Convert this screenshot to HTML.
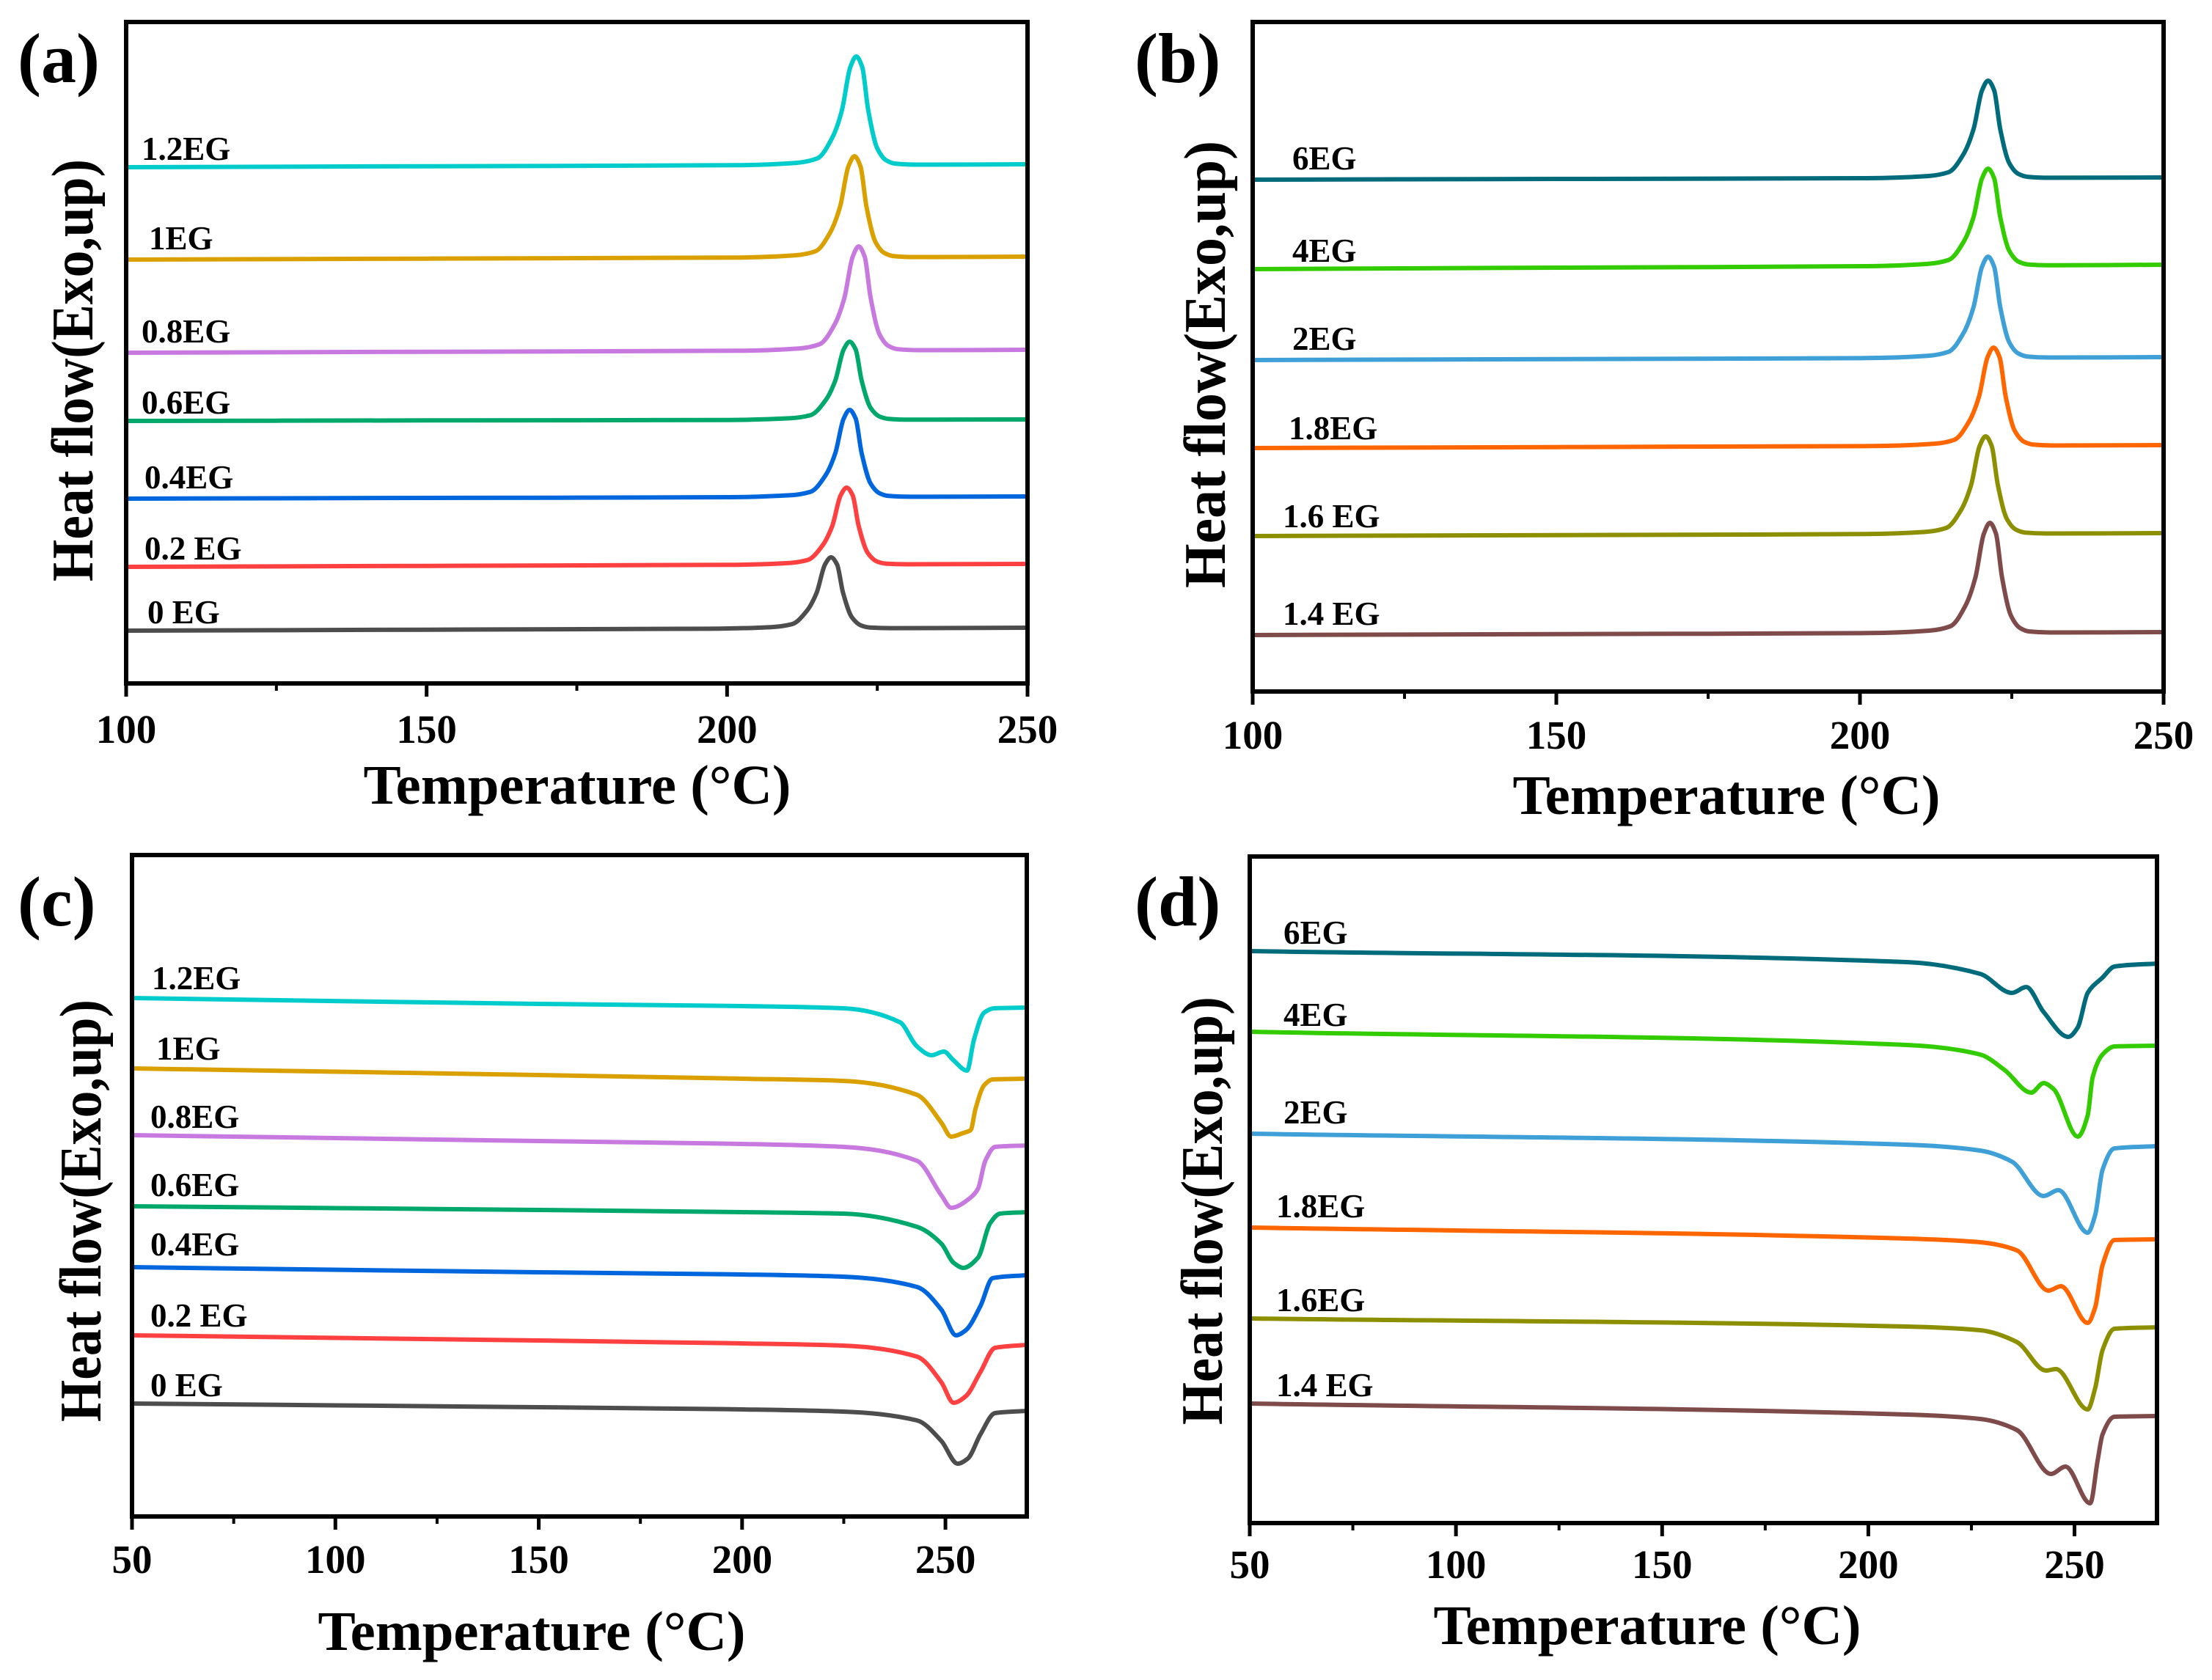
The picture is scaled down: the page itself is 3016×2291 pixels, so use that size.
<!DOCTYPE html>
<html><head><meta charset="utf-8">
<style>
html,body{margin:0;padding:0;background:#fff;}
svg{display:block;}
text{font-family:"Liberation Serif","Times New Roman",serif;font-weight:bold;fill:#000;}
</style></head>
<body>
<svg id="fig" width="3016" height="2291" viewBox="0 0 3016 2291" xmlns="http://www.w3.org/2000/svg">
<rect width="3016" height="2291" fill="#fff"/>
</svg>
<script>
// ---------- Panel (a): crystallization peaks, low EG ----------
const aLabels = ["0 EG","0.2 EG","0.4EG","0.6EG","0.8EG","1EG","1.2EG"];
const aColors = ["#4d4d4d","#ff4040","#0066dd","#00a86b","#c879e0","#d9a000","#00cccc"];
const aBaseLeft = [72,159,252,358,451,578,704];
const aBaseRight = [76,163,255,360,455,582,708];
const aPeakTemp = [217.3,219.9,220.4,220.4,221.9,221.2,221.5];
const aPeakValue = [172,267,373,466,596,719,855];
const aLabelY = [835,748,651,549,452,325,203];
const aLabelX = [201,197,197,193,193,203,193];

// ---------- Panel (b): crystallization peaks, high EG ----------
const bLabels = ["1.4 EG","1.6 EG","1.8EG","2EG","4EG","6EG"];
const bColors = ["#7f4a4a","#8c9000","#ff6600","#3fa0d8","#33cc00","#006b7a"];
const bBaseLeft = [77,212,332,452,576,698];
const bBaseRight = [81,216,336,456,582,701];
const bPeakTemp = [221.4,220.7,222.0,221.1,221.1,221.1];
const bPeakValue = [230,348,469,593,713,833];
const bLabelY = [837,704,584,462,342,216];
const bLabelX = [1749,1749,1757,1762,1762,1762];

// shared normalized exotherm peak profile (offset °C from peak, fraction of peak height)
const peakOffsets = [-20,-10,-6.5,-4,-2.4,-1,0,1,2,3.5,5,6.5,10];
const peakShape = [0,0.02,0.06,0.25,0.5,0.9,1,0.9,0.5,0.15,0.04,0.01,0];

// ---------- Panel (c): melting, low EG ----------
const cLabels = ["0 EG","0.2 EG","0.4EG","0.6EG","0.8EG","1EG","1.2EG"];
const cColors = aColors;
const cTemps = [
  [50,150,200,224.9,243.0,249.0,253.0,255.5,258.6,262.2,270],
  [50,150,200,224.9,243.0,249.0,252.0,255.0,258.6,262.2,270],
  [50,150,200,224.9,243.0,249.0,252.6,255.0,258.6,261.6,270],
  [50,150,200,224.9,243.0,249.0,252.0,254.4,258.0,261.0,263.4,270],
  [50,150,200,224.9,243.0,249.0,251.4,256.2,258.0,259.8,262.2,270],
  [50,150,200,224.9,243.0,249.0,251.4,254.4,256.2,257.4,259.5,261.6,270],
  [50,150,200,224.9,238.8,243.0,246.6,249.6,252.0,255.3,257.0,259.5,262,270]
];
const cValues = [
  [154,149,146,143,131,103,72,79,112,141,144],
  [247,240,236,233,218,183,155,164,197,230,234],
  [340,333,330,327,313,282,247,254,287,325,329],
  [423,418,415,413,395,372,346,339,353,400,413,415],
  [520,512,508,504,485,438,421,435,447,485,504,506],
  [611,602,597,594,575,537,518,523,527,556,588,596,597],
  [707,699,696,693,674,641,629,634,622,608,650,687,693,694]
];
const cLabelY = [1889,1794,1697,1616,1523,1430,1334];
const cLabelX = [205,205,205,205,205,213,207];

// ---------- Panel (d): melting, high EG ----------
const dLabels = ["1.4 EG","1.6EG","1.8EG","2EG","4EG","6EG"];
const dColors = bColors;
const dTemps = [
  [50,209.3,227.1,236.0,244.3,247.8,253.8,255.6,256.8,259.7,270],
  [50,209.3,227.1,236.0,243.1,245.5,253.2,255.0,256.8,259.7,270],
  [50,209.3,227.1,236.0,243.7,246.7,253.2,255.0,256.8,259.7,270],
  [50,209.3,227.1,234.8,242.5,246.1,253.2,255.0,256.8,259.7,270],
  [50,209.3,227.1,233.0,239.5,242.5,244.9,250.8,253.2,254.4,256.8,259.7,270],
  [50,209.3,227.1,234.8,238.3,242.5,248.5,250.8,253.2,256.8,259.7,270]
];
const dValues = [
  [163,148,142,127,67,77,27,85,121,145,146],
  [279,268,263,247,208,210,155,184,236,265,267],
  [403,388,383,372,317,323,273,294,352,386,387],
  [531,516,508,493,446,454,396,420,482,511,514],
  [670,652,639,618,587,600,592,527,556,608,639,650,651],
  [780,765,749,723,731,697,663,676,723,744,759,763]
];
const dLabelY = [1889,1773,1645,1517,1384,1272];
const dLabelX = [1740,1740,1740,1750,1750,1750];

// tick values
const abTicksMajor = [100,150,200,250];
const abTicksMinor = [125,175,225];
const cdTicksMajor = [50,100,150,200,250];
const cdTicksMinor = [75,125,175,225];

const NS = "http://www.w3.org/2000/svg";
const svg = document.getElementById("fig");
function mk(tag, attrs, parent){
  const e = document.createElementNS(NS, tag);
  for (const k in attrs) e.setAttribute(k, attrs[k]);
  (parent||svg).appendChild(e);
  return e;
}
// monotone cubic (Fritsch-Carlson) through points sorted by x
function smoothPath(pts){
  const n = pts.length;
  const dx = [], sl = [];
  for (let i=0;i<n-1;i++){ dx[i]=pts[i+1][0]-pts[i][0]; sl[i]=(pts[i+1][1]-pts[i][1])/dx[i]; }
  const m = [];
  m[0]=sl[0]; m[n-1]=sl[n-2];
  for (let i=1;i<n-1;i++){
    if (sl[i-1]*sl[i] <= 0) m[i]=0;
    else { const w1=2*dx[i]+dx[i-1], w2=dx[i]+2*dx[i-1]; m[i]=(w1+w2)/(w1/sl[i-1]+w2/sl[i]); }
  }
  let d = "M"+pts[0][0].toFixed(1)+","+pts[0][1].toFixed(1);
  for (let i=0;i<n-1;i++){
    const h = dx[i]/3;
    d += " C"+(pts[i][0]+h).toFixed(1)+","+(pts[i][1]+m[i]*h).toFixed(1)+" "+(pts[i+1][0]-h).toFixed(1)+","+(pts[i+1][1]-m[i+1]*h).toFixed(1)+" "+pts[i+1][0].toFixed(1)+","+pts[i+1][1].toFixed(1);
  }
  return d;
}

function drawPanel(cfg){
  const g = mk("g", {});
  
  
  const xs = t => cfg.x0 + (t - cfg.tmin)/(cfg.tmax - cfg.tmin)*(cfg.x1 - cfg.x0);
  const ys = v => cfg.y1 - v;
  cfg.series.forEach((s, i) => {
    const pts = s.temps.map((t, j) => [xs(t), ys(s.values[j])]);
    const p = mk("path", {d: smoothPath(pts), fill:"none", stroke:s.color, "stroke-width":6, "stroke-linejoin":"round","stroke-linecap":"butt"}, g);
    
    
    const lt = mk("text", {x:s.lx, y:s.ly, "font-size":45, "dominant-baseline":"central"}, g);
    lt.textContent = s.label;
    
    
  });
  const fr = mk("rect", {x:cfg.x0, y:cfg.y0, width:cfg.x1-cfg.x0, height:cfg.y1-cfg.y0, fill:"none", stroke:"#000", "stroke-width":6}, g);
  
  
  cfg.major.forEach(t => {
    const x = xs(t);
    const tk = mk("line", {x1:x, x2:x, y1:cfg.y1, y2:cfg.y1+18, stroke:"#000", "stroke-width":5}, g);
    
    
    const tl = mk("text", {x:x, y:cfg.tickY, "font-size":55, "text-anchor":"middle"}, g);
    tl.textContent = String(t);
    
    
  });
  cfg.minor.forEach(t => {
    const x = xs(t);
    const tk = mk("line", {x1:x, x2:x, y1:cfg.y1, y2:cfg.y1+10, stroke:"#000", "stroke-width":4}, g);
    
    
  });
  const xt = mk("text", {x:cfg.xtX, y:cfg.xtY, "font-size":76, "text-anchor":"middle", textLength:583, lengthAdjust:"spacingAndGlyphs"}, g);
  xt.textContent = "Temperature (°C)";
  
  
  const yt = mk("text", {x:0, y:0, "font-size":80, "text-anchor":"middle", textLength:cfg.ytLen, lengthAdjust:"spacingAndGlyphs", transform:"translate("+cfg.ytX+","+cfg.ytY+") rotate(-90)"}, g);
  yt.textContent = "Heat flow(Exo,up)";
  
  
  const pl = mk("text", {x:cfg.plX, y:cfg.plY, "font-size":96}, g);
  pl.textContent = cfg.letter;
  
  
}

function peakSeries(labels, colors, bl, br, pt, pv, lx, ly){
  return labels.map((lab, i) => {
    const temps = [100, 150];
    peakOffsets.forEach(o => temps.push(pt[i] + o));
    temps.push(250);
    const base = t => bl[i] + (br[i]-bl[i])*(t-100)/150;
    const h = pv[i] - base(pt[i]);
    const values = [base(100), base(150)];
    peakOffsets.forEach((o, j) => values.push(base(pt[i]+o) + h*peakShape[j]));
    values.push(base(250));
    return {label:lab, color:colors[i], temps, values, lx:lx[i], ly:ly[i]};
  });
}
function listSeries(labels, colors, temps, values, lx, ly){
  return labels.map((lab, i) => ({label:lab, color:colors[i], temps:temps[i], values:values[i], lx:lx[i], ly:ly[i]}));
}

drawPanel({name:"panel-a", letter:"(a)", x0:172, x1:1401, y0:30, y1:932, tmin:100, tmax:250,
  major:abTicksMajor, minor:abTicksMinor, tickY:1013, xtX:787, xtY:1096, ytX:126, ytY:505, ytLen:576, plX:24, plY:112,
  series: peakSeries(aLabels, aColors, aBaseLeft, aBaseRight, aPeakTemp, aPeakValue, aLabelX, aLabelY)});
drawPanel({name:"panel-b", letter:"(b)", x0:1708, x1:2950, y0:30, y1:943, tmin:100, tmax:250,
  major:abTicksMajor, minor:abTicksMinor, tickY:1021, xtX:2354, xtY:1110, ytX:1670, ytY:497, ytLen:610, plX:1547, plY:112,
  series: peakSeries(bLabels, bColors, bBaseLeft, bBaseRight, bPeakTemp, bPeakValue, bLabelX, bLabelY)});
drawPanel({name:"panel-c", letter:"(c)", x0:180, x1:1400, y0:1166, y1:2068, tmin:50, tmax:270,
  major:cdTicksMajor, minor:cdTicksMinor, tickY:2145, xtX:725, xtY:2250, ytX:137, ytY:1651, ytLen:576, plX:24, plY:1262,
  series: listSeries(cLabels, cColors, cTemps, cValues, cLabelX, cLabelY)});
drawPanel({name:"panel-d", letter:"(d)", x0:1704, x1:2941, y0:1168, y1:2077, tmin:50, tmax:270,
  major:cdTicksMajor, minor:cdTicksMinor, tickY:2152, xtX:2246, xtY:2242, ytX:1666, ytY:1651, ytLen:584, plX:1547, plY:1262,
  series: listSeries(dLabels, dColors, dTemps, dValues, dLabelX, dLabelY)});
</script>
</body></html>
